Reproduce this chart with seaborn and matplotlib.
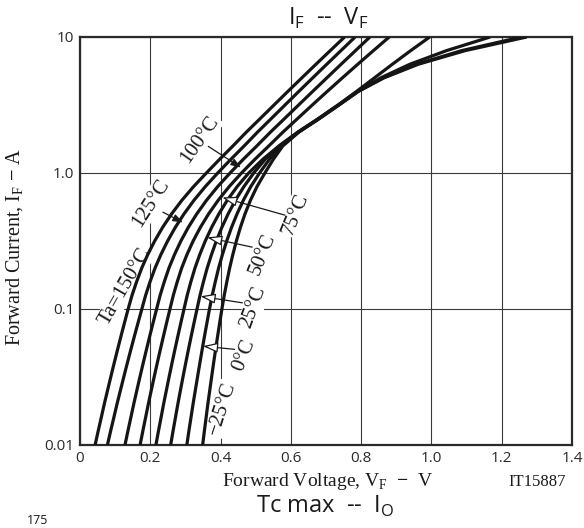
import numpy as np
import pandas as pd
import matplotlib
matplotlib.use("Agg")
import matplotlib.pyplot as plt
import seaborn as sns

# ---------------- data ----------------
current_A = [0.01, 0.0126, 0.0158, 0.02, 0.0251, 0.0316, 0.0398, 0.0501, 0.0631, 0.0794,
             0.1, 0.126, 0.158, 0.2, 0.251, 0.316, 0.398, 0.501, 0.631, 0.794,
             1.0, 1.26, 1.58, 2.0, 2.51, 3.16, 3.98, 5.01, 6.31, 7.94, 10.0]

vf_150 = [0.0430, 0.0515, 0.0602, 0.0691, 0.0782, 0.0875, 0.0970, 0.1067, 0.1166, 0.1267,
          0.1370, 0.1480, 0.1608, 0.1756, 0.1927, 0.2124, 0.2350, 0.2608, 0.2901, 0.3231,
          0.3596, 0.3971, 0.4351, 0.4736, 0.5126, 0.5519, 0.5915, 0.6314, 0.6716, 0.7121, 0.7529]
vf_125 = [0.0780, 0.0869, 0.0960, 0.1053, 0.1148, 0.1245, 0.1344, 0.1445, 0.1548, 0.1653,
          0.1760, 0.1867, 0.1991, 0.2135, 0.2301, 0.2492, 0.2711, 0.2961, 0.3245, 0.3565,
          0.3919, 0.4292, 0.4670, 0.5053, 0.5441, 0.5832, 0.6226, 0.6623, 0.7023, 0.7425, 0.7829]
vf_100 = [0.1280, 0.1361, 0.1444, 0.1529, 0.1616, 0.1705, 0.1796, 0.1889, 0.1984, 0.2081,
          0.2180, 0.2280, 0.2396, 0.2531, 0.2688, 0.2870, 0.3081, 0.3324, 0.3602, 0.3917,
          0.4270, 0.4645, 0.5030, 0.5422, 0.5819, 0.6219, 0.6621, 0.7025, 0.7431, 0.7839, 0.8249]
vf_75 = [0.1710, 0.1786, 0.1864, 0.1944, 0.2026, 0.2110, 0.2196, 0.2284, 0.2374, 0.2466,
         0.2560, 0.2655, 0.2765, 0.2893, 0.3043, 0.3219, 0.3424, 0.3661, 0.3934, 0.4244,
         0.4596, 0.4976, 0.5371, 0.5776, 0.6189, 0.6609, 0.7035, 0.7467, 0.7905, 0.8349, 0.8799]
vf_50 = [0.2160, 0.2231, 0.2304, 0.2379, 0.2456, 0.2535, 0.2616, 0.2699, 0.2784, 0.2871,
         0.2960, 0.3050, 0.3153, 0.3271, 0.3407, 0.3564, 0.3745, 0.3953, 0.4191, 0.4471,
         0.4801, 0.5200, 0.5660, 0.6200, 0.6780, 0.7340, 0.7870, 0.8380, 0.8890, 0.9410, 0.9950]
vf_25 = [0.2580, 0.2646, 0.2714, 0.2784, 0.2856, 0.2930, 0.3006, 0.3084, 0.3164, 0.3246,
         0.3330, 0.3415, 0.3511, 0.3619, 0.3741, 0.3879, 0.4036, 0.4216, 0.4423, 0.4663,
         0.4943, 0.5270, 0.5670, 0.6210, 0.6790, 0.7350, 0.7900, 0.8560, 0.9390, 1.0430, 1.1670]
vf_0 = [0.3040, 0.3097, 0.3156, 0.3217, 0.3280, 0.3344, 0.3409, 0.3475, 0.3543, 0.3613,
        0.3685, 0.3762, 0.3848, 0.3944, 0.4052, 0.4174, 0.4312, 0.4469, 0.4649, 0.4859,
        0.5109, 0.5390, 0.5730, 0.6220, 0.6800, 0.7360, 0.7910, 0.8630, 0.9580, 1.0860, 1.2560]
vf_m25 = [0.3490, 0.3538, 0.3587, 0.3638, 0.3691, 0.3745, 0.3800, 0.3857, 0.3916, 0.3976,
          0.4038, 0.4104, 0.4177, 0.4258, 0.4348, 0.4449, 0.4564, 0.4696, 0.4851, 0.5036,
          0.5261, 0.5500, 0.5770, 0.6230, 0.6810, 0.7370, 0.7920, 0.8650, 0.9630, 1.0960, 1.2710]

temps = ["150", "125", "100", "75", "50", "25", "0", "-25"]
series = [vf_150, vf_125, vf_100, vf_75, vf_50, vf_25, vf_0, vf_m25]

x_ticks = [0, 0.2, 0.4, 0.6, 0.8, 1.0, 1.2, 1.4]
x_tick_labels = ["0", "0.2", "0.4", "0.6", "0.8", "1.0", "1.2", "1.4"]
y_ticks = [0.01, 0.1, 1.0, 10]
y_tick_labels = ["0.01", "0.1", "1.0", "10"]

# curve labels: (text, text position, rotation, arrow start, arrow tip, head)
labels = [
    ("100°C", (0.341, 1.76), 55, (0.365, 1.57), (0.458, 1.097), "filled"),
    ("125°C", (0.202, 0.597), 57, (0.236, 0.515), (0.293, 0.433), "filled"),
    ("Ta=150°C", (0.128, 0.145), 60, None, None, None),
    ("75°C", (0.612, 0.496), 68, (0.583, 0.49), (0.405, 0.661), "open"),
    ("50°C", (0.520, 0.252), 68, (0.490, 0.285), (0.362, 0.336), "open"),
    ("25°C", (0.494, 0.103), 70, (0.462, 0.111), (0.343, 0.124), "open"),
    ("0°C", (0.466, 0.0458), 68, (0.440, 0.0505), (0.350, 0.0533), "open"),
    ("\u221225°C", (0.404, 0.0184), 72, None, None, None),
]

# ---------------- build table ----------------
rows = []
for t, vs in zip(temps, series):
    for i, v in zip(current_A, vs):
        rows.append({"temp": t, "VF": v, "IF": i})
df = pd.DataFrame(rows)

SANS = ["Open Sans", "DejaVu Sans"]
SERIF = ["Liberation Serif", "DejaVu Serif"]

sns.set_style("white")
plt.rcParams["font.family"] = SANS
plt.rcParams["mathtext.fontset"] = "custom"
plt.rcParams["mathtext.rm"] = "Open Sans"

W, H = 584, 528
fig = plt.figure(figsize=(W / 100, H / 100), dpi=100)
ax = fig.add_axes([80 / W, (H - 445) / H, 492 / W, 408 / H])

sns.lineplot(data=df, x="VF", y="IF", hue="temp", units="temp", estimator=None,
             sort=False, palette=["#151515"] * len(temps), legend=False,
             linewidth=2.3, ax=ax, zorder=4)
for ln in ax.get_lines():
    ln.set_solid_joinstyle("round")
    ln.set_solid_capstyle("butt")

ax.set_yscale("log")
ax.set_xlim(0, 1.4)
ax.set_ylim(0.01, 10)
ax.set_xticks(x_ticks)
ax.set_xticklabels(x_tick_labels)
ax.set_yticks(y_ticks)
ax.set_yticklabels(y_tick_labels)
ax.minorticks_off()
ax.tick_params(length=0, labelsize=11, colors="#2a2a2a", pad=4)
for lab in ax.get_xticklabels() + ax.get_yticklabels():
    lab.set_family(SANS)

ax.set_axisbelow(True)
ax.grid(True, color="#3a3a3a", linewidth=0.8)
for sp in ax.spines.values():
    sp.set_visible(True)
    sp.set_color("#2a2a2a")
    sp.set_linewidth(1.6)

ax.set_xlabel("")
ax.set_ylabel("")

# curve labels and arrows
for text, pos, rot, a0, a1, head in labels:
    ax.text(pos[0], pos[1], text, rotation=rot, rotation_mode="anchor",
            ha="center", va="center", fontsize=15, family=SERIF, color="#1a1a1a",
            bbox=dict(boxstyle="square,pad=0.05", fc="white", ec="none"), zorder=3)
    if a0 is not None:
        if head == "filled":
            props = dict(arrowstyle="-|>,head_length=0.6,head_width=0.22", color="#1a1a1a",
                         lw=0.9, shrinkA=0, shrinkB=0)
        else:
            props = dict(arrowstyle="-|>,head_length=0.9,head_width=0.3", color="#1a1a1a",
                         fc="white", lw=0.9, shrinkA=0, shrinkB=0)
        ax.annotate("", xy=a1, xytext=a0, arrowprops=props, zorder=5)

# titles and axis labels
fig.text(328 / W, 1 - 18 / H, r"I$_{\mathregular{F}}$  --  V$_{\mathregular{F}}$",
         ha="center", va="center", fontsize=17, family=SANS, color="#1a1a1a")
fig.text(15 / W, 1 - 247 / H, r"Forward Current, I$_{\mathregular{F}}$ $-$ A",
         rotation=90, ha="center", va="center", fontsize=14.5, family=SERIF, color="#1a1a1a")
fig.text(328 / W, 1 - 482 / H, r"Forward Voltage, V$_{\mathregular{F}}$  $-$  V",
         ha="center", va="center", fontsize=14, family=SERIF, color="#1a1a1a")
fig.text(537 / W, 1 - 482 / H, "IT15887", ha="center", va="center",
         fontsize=12, family=SERIF, color="#1a1a1a")
fig.text(325 / W, 1 - 506 / H, r"Tc max  --  I$_{\mathregular{O}}$",
         ha="center", va="center", fontsize=17, family=SANS, color="#1a1a1a")
fig.text(38 / W, 1 - 521 / H, "175", ha="center", va="center",
         fontsize=9, family=SANS, color="#1a1a1a")

fig.savefig("out.png", dpi=100)
